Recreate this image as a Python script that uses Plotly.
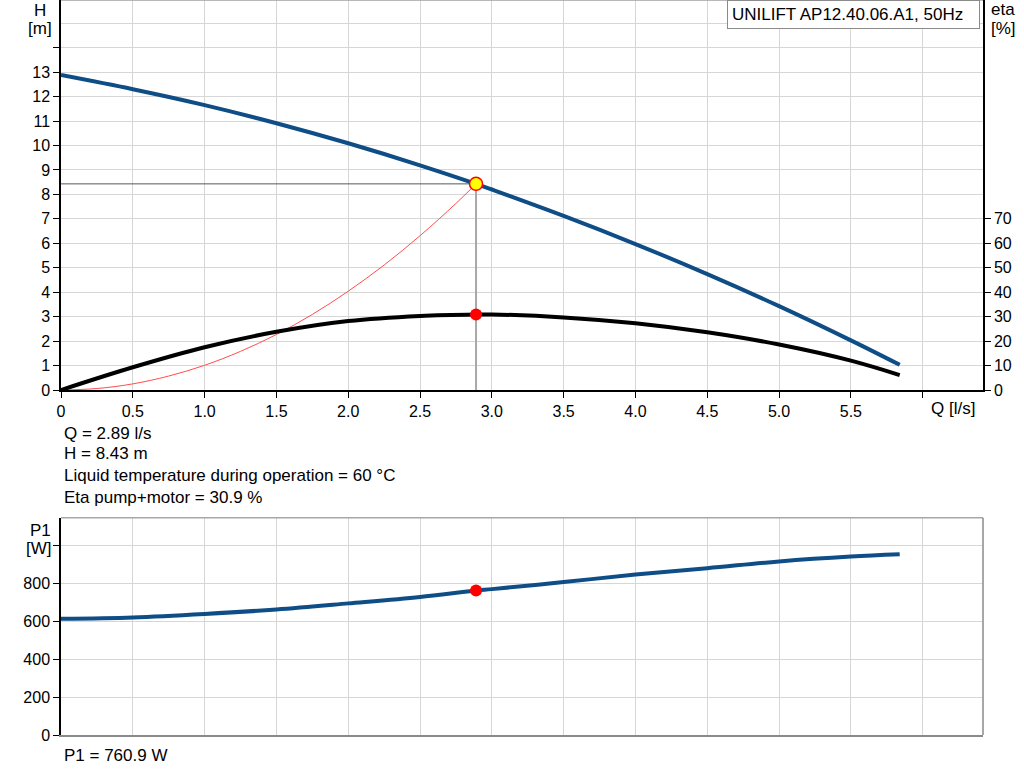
import plotly.graph_objects as go

# pump curve readings (Q in l/s)
q = [0, 0.5, 1.0, 1.5, 2.0, 2.5, 2.89, 3.0, 3.5, 4.0, 4.5, 5.0, 5.5, 5.84]
head = [12.88, 12.30, 11.65, 10.91, 10.09, 9.19, 8.43, 8.20, 7.12, 5.97, 4.74, 3.43, 2.03, 1.03]
eta = [0, 9.3, 17.5, 23.8, 28.2, 30.3, 30.9, 30.9, 29.7, 27.3, 23.6, 18.6, 12.0, 6.1]
p1 = [612, 619, 637, 661, 693, 727, 761, 768, 805, 845, 878, 914, 940, 952]

# system curve through the duty point
q_sys = [0, 0.25, 0.5, 0.75, 1.0, 1.25, 1.5, 1.75, 2.0, 2.25, 2.5, 2.75, 2.89]
h_sys = [0, 0.06, 0.25, 0.57, 1.01, 1.58, 2.27, 3.09, 4.04, 5.11, 6.31, 7.63, 8.43]

# duty point
q_op = 2.89
h_op = 8.43
eta_op = 30.9
p1_op = 760.9

x_ticks = [0, 0.5, 1.0, 1.5, 2.0, 2.5, 3.0, 3.5, 4.0, 4.5, 5.0, 5.5, 6.0]
x_labels = ["0", "0.5", "1.0", "1.5", "2.0", "2.5", "3.0", "3.5", "4.0", "4.5", "5.0", "5.5", ""]
h_ticks = list(range(0, 15))
h_labels = [str(v) for v in range(0, 14)] + [""]
eta_ticks = [0, 10, 20, 30, 40, 50, 60, 70]
p1_ticks = [0, 200, 400, 600, 800, 1000]
p1_labels = ["0", "200", "400", "600", "800", ""]

BLUE = "#0f4d86"
GRID = "#d6d6d6"
FONT = "Liberation Sans, Arial, sans-serif"

W, H = 1024, 781
ML, MR, MT, MB = 61, 41, 0, 46
PW = W - ML - MR
PH = H - MT - MB


def px(x):
    return (x - ML) / PW


def py(y):
    return (H - MB - y) / PH


top_dom = [py(390), 1.0]
bot_dom = [0.0, py(517.7)]

fig = go.Figure()

fig.add_trace(go.Scatter(x=[0, q_op], y=[h_op, h_op], mode="lines",
                         line=dict(color="#5a5a5a", width=1), xaxis="x", yaxis="y"))
fig.add_trace(go.Scatter(x=[q_op, q_op], y=[h_op, 0], mode="lines",
                         line=dict(color="#a8a8a8", width=2), xaxis="x", yaxis="y"))
fig.add_trace(go.Scatter(x=q_sys, y=h_sys, mode="lines", line_shape="spline",
                         line=dict(color="#ff4d4d", width=1), xaxis="x", yaxis="y"))
fig.add_trace(go.Scatter(x=q, y=eta, mode="lines", line_shape="spline",
                         line=dict(color="black", width=4), xaxis="x", yaxis="y2"))
fig.add_trace(go.Scatter(x=q, y=head, mode="lines", line_shape="spline",
                         line=dict(color=BLUE, width=4), xaxis="x", yaxis="y"))
fig.add_trace(go.Scatter(x=[q_op], y=[h_op], mode="markers",
                         marker=dict(size=13, color="#ffff00", line=dict(color="#ff0000", width=1.5)),
                         xaxis="x", yaxis="y"))
fig.add_trace(go.Scatter(x=[q_op], y=[eta_op], mode="markers",
                         marker=dict(size=12, color="#ff0000"), xaxis="x", yaxis="y2"))

fig.add_trace(go.Scatter(x=q, y=p1, mode="lines", line_shape="spline",
                         line=dict(color=BLUE, width=4), xaxis="x2", yaxis="y3"))
fig.add_trace(go.Scatter(x=[q_op], y=[p1_op], mode="markers",
                         marker=dict(size=12, color="#ff0000"), xaxis="x2", yaxis="y3"))

tickfont = dict(family=FONT, size=16, color="black")
xrange_ = [0, 6.42]

fig.update_layout(
    width=W, height=H,
    margin=dict(l=ML, r=MR, t=MT, b=MB),
    paper_bgcolor="white", plot_bgcolor="white",
    showlegend=False, hovermode=False,
    font=dict(family=FONT, size=16, color="black"),
    xaxis=dict(domain=[0, 1], anchor="y", range=xrange_, tickvals=x_ticks, ticktext=x_labels,
               showgrid=True, gridcolor=GRID, gridwidth=1, zeroline=False,
               showline=True, linecolor="black", linewidth=1.5,
               ticks="outside", ticklen=6, tickcolor="black", tickfont=tickfont),
    yaxis=dict(domain=top_dom, anchor="x", range=[0, 15.95], tickvals=h_ticks, ticktext=h_labels,
               showgrid=True, gridcolor=GRID, gridwidth=1, zeroline=False,
               minor=dict(dtick=1, tick0=0, showgrid=True, gridcolor=GRID, ticks=""),
               showline=True, linecolor="black", linewidth=1.5,
               ticks="outside", ticklen=6, tickcolor="black", tickfont=tickfont),
    yaxis2=dict(overlaying="y", side="right", anchor="x", range=[0, 159.5], tickvals=eta_ticks,
                showgrid=False, zeroline=False,
                showline=True, linecolor="black", linewidth=1.5,
                ticks="outside", ticklen=6, tickcolor="black", tickfont=tickfont),
    xaxis2=dict(domain=[0, 1], anchor="y3", range=xrange_, tickvals=x_ticks, showticklabels=False,
                showgrid=True, gridcolor=GRID, gridwidth=1, zeroline=False,
                showline=True, linecolor="#8a8a8a", linewidth=1.5, ticks=""),
    yaxis3=dict(domain=bot_dom, anchor="x2", range=[0, 1144], tickvals=p1_ticks, ticktext=p1_labels,
                showgrid=True, gridcolor=GRID, gridwidth=1, zeroline=False,
                showline=True, linecolor="black", linewidth=1.5,
                ticks="outside", ticklen=6, tickcolor="black", tickfont=tickfont),
)

# grey frame edges
fig.add_shape(type="line", xref="paper", yref="paper", x0=0, x1=1, y0=1, y1=1,
              line=dict(color="#a0a0a0", width=1.5))
fig.add_shape(type="line", xref="paper", yref="paper", x0=0, x1=1, y0=bot_dom[1], y1=bot_dom[1],
              line=dict(color="#a8a8a8", width=1.5))
fig.add_shape(type="line", xref="paper", yref="paper", x0=1, x1=1, y0=0, y1=bot_dom[1],
              line=dict(color="#8a8a8a", width=1.5))

texts = [
    ("H", 40, 10, "center"), ("[m]", 40, 29, "center"),
    ("eta", 1003, 9, "center"), ("[%]", 1003, 29, "center"),
    ("P1", 40, 530, "center"), ("[W]", 39, 548, "center"),
    ("Q [l/s]", 929, 408, "left"),
    ("Q = 2.89 l/s", 62, 433, "left"),
    ("H = 8.43 m", 62, 454, "left"),
    ("Liquid temperature during operation = 60 °C", 62, 476, "left"),
    ("Eta pump+motor = 30.9 %", 62, 497, "left"),
    ("P1 = 760.9 W", 62, 756, "left"),
]
for t, x, y, anc in texts:
    fig.add_annotation(text=t, xref="paper", yref="paper", x=px(x), y=py(y),
                       xanchor=anc, yanchor="middle", showarrow=False,
                       font=dict(family=FONT, size=17, color="black"))

fig.add_annotation(text="UNILIFT AP12.40.06.A1, 50Hz", xref="paper", yref="paper",
                   x=px(980), y=1.0, xanchor="right", yanchor="top", showarrow=False,
                   width=243, align="left",
                   bgcolor="white", bordercolor="#8a8a8a", borderwidth=1, borderpad=4,
                   font=dict(family=FONT, size=17, color="black"))

fig.write_html("out.html", config={"displayModeBar": False},
               post_script="document.body.style.margin='0';")
